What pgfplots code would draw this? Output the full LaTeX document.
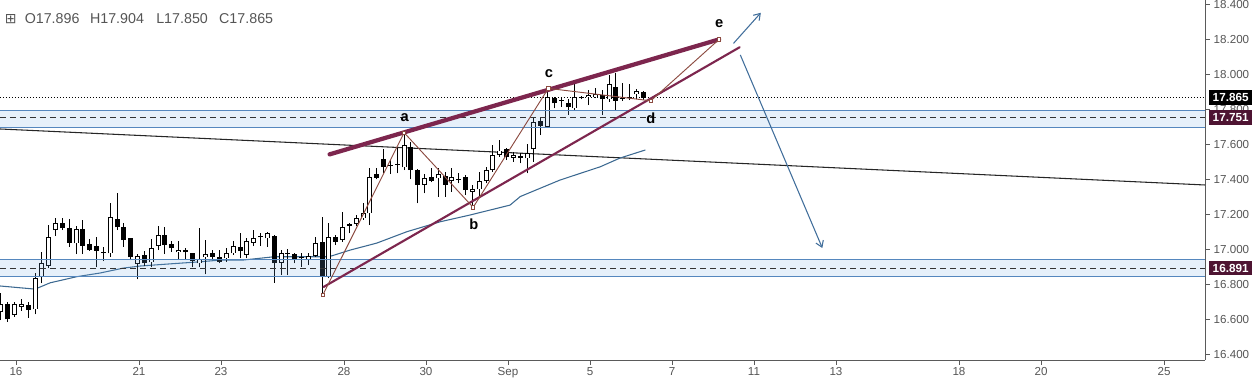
\documentclass[border=0pt]{standalone}
\usepackage{fontspec}
\setmainfont{Liberation Sans}
\newfontfamily\dejavu{DejaVu Sans}
\usepackage{pgfplots}
\pgfplotsset{compat=1.18}
\usepackage{pgfplotstable}
\usetikzlibrary{arrows.meta}

\definecolor{tcol}{RGB}{85,85,85}
\definecolor{axc}{RGB}{90,90,90}
\definecolor{zonefill}{RGB}{115,170,225}
\definecolor{zoneline}{RGB}{85,135,190}
\definecolor{wedge}{RGB}{125,38,78}
\definecolor{patt}{RGB}{140,75,65}
\definecolor{maline}{RGB}{60,105,145}
\definecolor{arrowc}{RGB}{65,110,155}
\definecolor{boxm}{RGB}{78,20,50}

% rising candles
\pgfplotstableread{
k O H L C
0 16.642 16.746 16.594 16.685
2 16.623 16.699 16.613 16.684
3 16.670 16.712 16.647 16.685
5 16.655 16.861 16.626 16.832
6 16.842 16.984 16.804 16.918
7 16.903 17.137 16.889 17.070
8 17.108 17.175 17.074 17.146
11 17.032 17.131 16.971 17.112
16 16.975 17.261 16.956 17.181
20 16.914 16.971 16.826 16.960
22 16.924 17.055 16.895 17.004
23 17.017 17.131 16.994 17.080
26 16.981 17.045 16.937 16.994
29 16.918 17.118 16.895 16.943
30 16.952 17.051 16.855 16.971
33 16.947 17.004 16.927 16.979
34 16.975 17.047 16.966 17.017
36 16.966 17.061 16.947 17.047
37 17.036 17.108 17.017 17.061
39 17.061 17.099 17.013 17.089
41 16.922 16.994 16.851 16.975
45 16.937 16.979 16.908 16.960
46 16.960 17.070 16.956 17.032
48 16.842 17.147 16.832 17.067
50 17.051 17.213 17.042 17.127
52 17.143 17.194 17.131 17.175
53 17.175 17.261 17.166 17.207
54 17.204 17.461 17.137 17.413
59 17.467 17.663 17.451 17.594
62 17.366 17.428 17.318 17.404
64 17.404 17.461 17.299 17.428
66 17.388 17.461 17.328 17.413
69 17.328 17.366 17.238 17.341
70 17.341 17.442 17.289 17.388
71 17.388 17.470 17.375 17.451
72 17.451 17.594 17.442 17.537
73 17.537 17.623 17.528 17.562
75 17.522 17.556 17.499 17.535
77 17.518 17.600 17.432 17.550
78 17.570 17.752 17.499 17.724
80 17.699 17.915 17.699 17.867
84 17.804 17.947 17.794 17.870
86 17.868 17.909 17.823 17.881
87 17.867 17.918 17.861 17.884
89 17.855 17.994 17.842 17.941
93 17.884 17.912 17.855 17.903
}\upc

% falling candles
\pgfplotstableread{
k O H L C
1 16.685 16.699 16.584 16.598
4 16.678 16.699 16.607 16.651
9 17.146 17.175 17.108 17.118
10 17.118 17.169 17.013 17.036
12 17.112 17.165 16.971 17.019
13 17.028 17.055 16.990 16.994
14 17.017 17.070 16.895 16.990
15 16.981 17.013 16.931 16.977
17 17.169 17.318 17.108 17.124
18 17.124 17.150 17.013 17.051
19 17.061 17.065 16.937 16.952
21 16.965 16.990 16.903 16.918
24 17.080 17.127 16.971 17.023
25 17.028 17.047 16.984 17.004
27 16.994 17.004 16.937 16.981
28 16.975 16.980 16.895 16.931
31 16.975 16.994 16.937 16.956
32 16.952 16.994 16.918 16.927
35 17.009 17.089 16.947 16.988
38 17.072 17.089 17.017 17.066
40 17.075 17.080 16.807 16.918
42 16.977 16.998 16.851 16.972
43 16.969 16.975 16.918 16.937
44 16.956 16.979 16.899 16.947
47 17.042 17.185 16.737 16.842
49 17.067 17.080 17.023 17.042
51 17.141 17.147 17.089 17.131
55 17.428 17.461 17.398 17.407
56 17.512 17.569 17.432 17.470
57 17.482 17.508 17.428 17.477
58 17.486 17.575 17.432 17.481
60 17.581 17.613 17.398 17.451
61 17.451 17.455 17.261 17.366
63 17.413 17.461 17.381 17.390
65 17.417 17.442 17.299 17.366
67 17.402 17.432 17.375 17.398
68 17.413 17.423 17.308 17.337
74 17.569 17.575 17.508 17.524
76 17.531 17.550 17.490 17.522
79 17.731 17.747 17.651 17.703
81 17.861 17.870 17.804 17.832
82 17.850 17.870 17.813 17.846
83 17.836 17.855 17.766 17.810
85 17.870 17.874 17.855 17.862
88 17.880 17.909 17.766 17.855
90 17.924 18.008 17.794 17.848
91 17.863 17.947 17.848 17.859
92 17.869 17.943 17.851 17.865
94 17.896 17.904 17.850 17.865
}\downc

\begin{document}
\begin{tikzpicture}
\begin{axis}[
  scale only axis, width=903.75bp, height=270bp,
  xmin=-0.136, xmax=176.2, ymin=16.366, ymax=18.423,
  axis x line=bottom, axis y line=right,
  axis line style={-, draw=axc, line width=0.75bp},
  xtick={2.2,20.2,32.2,50.2,62.2,74.2,86.2,98.2,110.2,122.2,140.2,152.2,170.2},
  xticklabels={16,21,23,28,30,Sep,5,7,11,13,18,20,25},
  ytick={16.4,16.6,16.8,17.0,17.2,17.4,17.6,17.8,18.0,18.2,18.4},
  tick align=outside, major tick length=3.5bp,
  tick style={draw=axc, line width=0.6bp},
  ticklabel style={font=\fontsize{8.7bp}{10bp}\selectfont, text=tcol},
  xticklabel style={yshift=1.5bp},
  yticklabel style={xshift=-0.5bp, /pgf/number format/fixed, /pgf/number format/fixed zerofill,
     /pgf/number format/precision=3, /pgf/number format/assume math mode=true},
  clip=false,
]
% trend line
\addplot[draw=black!85, line width=0.8bp] coordinates {(-0.136,17.686) (176.2,17.366)};
% moving average
\addplot[draw=maline, line width=0.8bp] coordinates {
(-0.14,16.789) (5,16.771) (7.2,16.807) (11.1,16.842) (14.5,16.863) (17.9,16.891)
(20.4,16.903) (24.3,16.914) (29.1,16.927) (32.1,16.937) (35.4,16.937) (40,16.956)
(48,16.956) (51.1,16.994) (55,17.034) (59.4,17.099) (64.3,17.156) (68.6,17.194)
(74.5,17.251) (76,17.300) (81.8,17.394) (87.7,17.470) (90.6,17.520) (94.3,17.566)};
% current price dotted line
\addplot[draw=black, line width=0.75bp, dash pattern=on 0.75bp off 1.5bp] coordinates {(-0.136,17.865) (176.2,17.865)};

% candles: wicks
\addplot[draw=black, line width=0.75bp, quiver={u=0, v=\thisrow{H}-\thisrow{L}}] table[x=k, y=L] {\upc};
\addplot[draw=black, line width=0.75bp, quiver={u=0, v=\thisrow{H}-\thisrow{L}}] table[x=k, y=L] {\downc};
% falling bodies
\addplot[draw=black, line width=3.75bp, quiver={u=0, v=\thisrow{O}-\thisrow{C}}] table[x=k, y=C] {\downc};
% rising bodies
\addplot[draw=black, line width=3.75bp, quiver={u=0, v=\thisrow{C}-\thisrow{O}}] table[x=k, y=O] {\upc};
\addplot[draw=white, line width=2.25bp, quiver={u=0, v=\thisrow{C}-\thisrow{O}-0.009}] table[x=k, y expr=\thisrow{O}+0.0045] {\upc};

% zones
\addplot[fill=zonefill, fill opacity=0.18, draw=none] coordinates {(-0.136,17.695) (176.2,17.695) (176.2,17.790) (-0.136,17.790)} -- cycle;
\addplot[fill=zonefill, fill opacity=0.18, draw=none] coordinates {(-0.136,16.842) (176.2,16.842) (176.2,16.941) (-0.136,16.941)} -- cycle;
\addplot[draw=zoneline, line width=0.9bp] coordinates {(-0.136,17.790) (176.2,17.790)};
\addplot[draw=zoneline, line width=0.9bp] coordinates {(-0.136,17.695) (176.2,17.695)};
\addplot[draw=zoneline, line width=0.9bp] coordinates {(-0.136,16.941) (176.2,16.941)};
\addplot[draw=zoneline, line width=0.9bp] coordinates {(-0.136,16.842) (176.2,16.842)};
\addplot[draw=black!80, line width=0.75bp, dash pattern=on 4.5bp off 3bp] coordinates {(-0.136,17.751) (176.2,17.751)};
\addplot[draw=black!80, line width=0.75bp, dash pattern=on 4.5bp off 3bp] coordinates {(-0.136,16.891) (176.2,16.891)};

% wedge lines
\addplot[draw=wedge, line width=3.2bp, line cap=round] coordinates {(48.1,17.541) (105.1,18.198)};
\addplot[draw=wedge, line width=1.6bp, line cap=round] coordinates {(47.2,16.783) (108.1,18.153)};
% pattern
\addplot[draw=patt, line width=0.7bp, mark=square*, mark size=1.2bp, mark options={fill=white, draw=patt, line width=0.6bp}]
  coordinates {(47.1,16.737) (59.0,17.665) (69.1,17.238) (80.1,17.918) (95.1,17.847) (105.1,18.198)};
% arrows
\addplot[draw=arrowc, line width=0.8bp, -{Straight Barb[length=4.5bp,width=6bp]}] coordinates {(107.2,18.175) (111.2,18.350)};
\addplot[draw=arrowc, line width=0.8bp, -{Straight Barb[length=4.5bp,width=6bp]}] coordinates {(108.2,18.109) (120.2,17.006)};

% pattern letters
\node[font=\fontsize{11bp}{12bp}\selectfont\bfseries] at (axis cs:59.1,17.749) {a};
\node[font=\fontsize{11bp}{12bp}\selectfont\bfseries] at (axis cs:69.2,17.143) {b};
\node[font=\fontsize{11bp}{12bp}\selectfont\bfseries] at (axis cs:80.2,18.000) {c};
\node[font=\fontsize{11bp}{12bp}\selectfont\bfseries] at (axis cs:95.1,17.749) {d};
\node[font=\fontsize{11bp}{12bp}\selectfont\bfseries] at (axis cs:105.1,18.286) {e};

% OHLC header
\node[anchor=west, inner sep=0pt, text=tcol, font=\dejavu\fontsize{10.5bp}{12bp}\selectfont] at (axis cs:0.55,18.314) {⊞};
\node[anchor=west, inner sep=0pt, text=tcol, font=\fontsize{10.7bp}{12bp}\selectfont] at (axis cs:3.45,18.314) {O17.896};
\node[anchor=west, inner sep=0pt, text=tcol, font=\fontsize{10.7bp}{12bp}\selectfont] at (axis cs:13.0,18.314) {H17.904};
\node[anchor=west, inner sep=0pt, text=tcol, font=\fontsize{10.7bp}{12bp}\selectfont] at (axis cs:22.7,18.314) {L17.850};
\node[anchor=west, inner sep=0pt, text=tcol, font=\fontsize{10.7bp}{12bp}\selectfont] at (axis cs:31.9,18.314) {C17.865};

% price boxes
\node[anchor=west, xshift=3bp, fill=black, text=white, inner xsep=2.6bp, inner ysep=2.3bp, font=\fontsize{8.8bp}{10bp}\selectfont\bfseries] at (axis cs:176.2,17.865) {17.865};
\node[anchor=west, xshift=3bp, fill=boxm, text=white, inner xsep=2.6bp, inner ysep=2.3bp, font=\fontsize{8.8bp}{10bp}\selectfont\bfseries] at (axis cs:176.2,17.751) {17.751};
\node[anchor=west, xshift=3bp, fill=boxm, text=white, inner xsep=2.6bp, inner ysep=2.3bp, font=\fontsize{8.8bp}{10bp}\selectfont\bfseries] at (axis cs:176.2,16.891) {16.891};
\end{axis}
\pgfresetboundingbox
\path[use as bounding box] ([yshift=-15.75bp]current axis.south west) rectangle ([xshift=39bp]current axis.north east);
\end{tikzpicture}
\end{document}
